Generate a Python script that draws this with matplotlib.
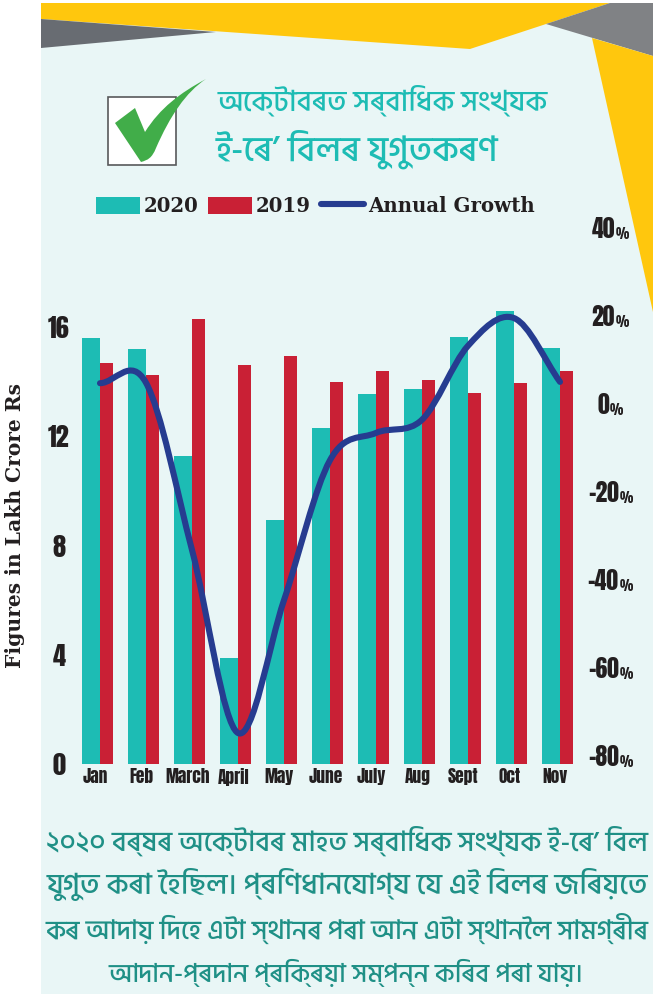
import re
import numpy as np
import matplotlib
matplotlib.use('Agg')
import matplotlib.pyplot as plt
from matplotlib.patches import Polygon, Rectangle, PathPatch
from matplotlib.path import Path
from matplotlib.lines import Line2D

months = ['Jan', 'Feb', 'March', 'April', 'May', 'June', 'July', 'Aug', 'Sept', 'Oct', 'Nov']
bills_2020 = [15.6, 15.2, 11.3, 3.9, 8.95, 12.3, 13.55, 13.75, 15.65, 16.6, 15.25]
bills_2019 = [14.7, 14.25, 16.3, 14.6, 14.95, 14.0, 14.4, 14.05, 13.6, 13.95, 14.4]
growth = [4.5, 4.6, -33.4, -75, -44.8, -13, -6.8, -3.8, 13, 19.3, 4.8]

left_ticks = [0, 4, 8, 12, 16]
right_ticks = [-80, -60, -40, -20, 0, 20, 40]

title_lines = ['অক্টোবৰত সৰ্বাধিক সংখ্যক', 'ই-ৰে’ বিলৰ যুগুতকৰণ']
body_lines = [
    '২০২০ বৰ্ষৰ অক্টোবৰ মাহত সৰ্বাধিক সংখ্যক ই-ৰে’ বিল',
    'যুগুত কৰা হৈছিল। প্ৰণিধানযোগ্য যে এই বিলৰ জৰিয়তে',
    'কৰ আদায় দিহে এটা স্থানৰ পৰা আন এটা স্থানলৈ সামগ্ৰীৰ',
    'আদান-প্ৰদান প্ৰক্ৰিয়া সম্পন্ন কৰিব পৰা যায়।',
]

TEAL = '#1DBCB4'
RED = '#C92035'
BLUE = '#263C90'
YELLOW = '#FFC70D'
PANEL = '#E9F6F6'
W, H = 653, 997
BN = ['Hind Siliguri', 'Noto Sans Bengali', 'DejaVu Sans']
NARROW = ['Anton', 'Liberation Sans Narrow', 'DejaVu Sans']
SERIF = ['DejaVu Serif']

CONS = '[\u0995-\u09B9\u09DC-\u09DF\u09F0\u09F1]\u09BC?'


# matplotlib does no Indic shaping, so vowel signs that sit before the consonant get moved by hand
def visual(s):
    s = s.replace('\u09CB', '\u09C7\u09BE').replace('\u09CC', '\u09C7\u09D7')
    return re.sub('((?:' + CONS + '\u09CD)*' + CONS + ')([\u09BF\u09C7\u09C8])', r'\2\1', s)


def px_axes(x0, y0, x1, y1, **kw):
    return fig.add_axes([x0 / W, 1 - y1 / H, (x1 - x0) / W, (y1 - y0) / H], **kw)


fig = plt.figure(figsize=(W / 100, H / 100), dpi=100, facecolor='white')

# decoration, in pixel coordinates
bg = px_axes(0, 0, W, H)
bg.set_xlim(0, W)
bg.set_ylim(H, 0)
bg.axis('off')
bg.add_patch(Rectangle((41, 3), W - 41, 991, fc=PANEL, ec='none'))
bg.add_patch(Polygon([(41, 3), (610, 3), (470, 49), (41, 19)], fc=YELLOW, ec='none'))
bg.add_patch(Polygon([(41, 19), (216, 32), (41, 48)], fc='#686C72', ec='none'))
bg.add_patch(Polygon([(610, 3), (653, 3), (653, 56), (546, 24)], fc='#808285', ec='none'))
bg.add_patch(Polygon([(592, 38), (653, 56), (653, 312)], fc=YELLOW, ec='none'))
bg.add_patch(Rectangle((108, 97), 68, 68, fc='white', ec='#58595B', lw=1.2))
tick_path = Path(
    [(115, 123), (135, 108), (145, 132), (160, 108), (180, 93), (206, 79),
     (186, 92), (170, 116), (156, 148), (152, 158), (148, 160), (141, 162), (115, 123)],
    [Path.MOVETO, Path.LINETO, Path.LINETO, Path.CURVE4, Path.CURVE4, Path.CURVE4,
     Path.CURVE4, Path.CURVE4, Path.CURVE4, Path.CURVE4, Path.CURVE4, Path.CURVE4, Path.CLOSEPOLY])
bg.add_patch(PathPatch(tick_path, fc='#41AD49', ec='none'))

# 46 px per month, teal/red boundary of Jan at x=100, zero at y=764
ax = px_axes(54, 200, 606, 764)
ax.patch.set_alpha(0)
ax.set_xlim(-1, 11)
ax.set_ylim(0, 564 / 27.3)
x = np.arange(len(months))
bw_a, bw_b = 18 / 46, 13 / 46
ax.bar(x, bills_2020, width=-bw_a, align='edge', color=TEAL, zorder=2)
ax.bar(x, bills_2019, width=bw_b, align='edge', color=RED, zorder=3)
ax.set_xticks(x - 0.1, months)
ax.set_yticks(left_ticks)
ax.tick_params(axis='x', length=0, pad=3)
ax.tick_params(axis='y', length=0, pad=-3.6)
for lb in ax.get_xticklabels():
    lb.set(family=NARROW, fontsize=12.5, color='#231F20')
for lb in ax.get_yticklabels():
    lb.set(family=NARROW, fontsize=19, color='#231F20', ha='center')
for s in ax.spines.values():
    s.set_visible(False)

ax2 = ax.twinx()
ax2.patch.set_alpha(0)
ax2.set_ylim((403 - 764) / 4.4, (403 - 200) / 4.4)
ax2.set_yticks(right_ticks, [str(v) for v in right_ticks])
ax2.tick_params(axis='y', length=0, pad=-2)
for s in ax2.spines.values():
    s.set_visible(False)
for lb in ax2.get_yticklabels():
    lb.set(family=NARROW, fontsize=17, color='#231F20', ha='center')

# smoothed growth line: Catmull-Rom through the monthly values
g = np.array(growth, dtype=float)
pts = np.column_stack([x, g])
m = np.zeros_like(pts)
m[1:-1] = (pts[2:] - pts[:-2]) / 2
m[0] = pts[1] - pts[0]
m[-1] = pts[-1] - pts[-2]
verts = [pts[0]]
codes = [Path.MOVETO]
for i in range(len(pts) - 1):
    verts += [pts[i] + m[i] / 3, pts[i + 1] - m[i + 1] / 3, pts[i + 1]]
    codes += [Path.CURVE4] * 3
ax2.add_patch(PathPatch(Path(verts, codes), fc='none', ec=BLUE, lw=4.4, capstyle='round',
                        joinstyle='round', zorder=5))

fig.text(15 / W, 1 - 525 / H, 'Figures in Lakh Crore Rs', rotation=90, ha='center', va='center',
         family=SERIF, fontweight='bold', fontsize=14.6, color='#231F20')

handles = [Rectangle((0, 0), 1, 1, fc=TEAL, ec='none'), Rectangle((0, 0), 1, 1, fc=RED, ec='none'),
           Line2D([0], [0], color=BLUE, lw=4.4, solid_capstyle='round')]
fig.legend(handles, ['2020', '2019', 'Annual Growth'], ncol=3, frameon=False, loc='center',
           bbox_to_anchor=(315.5 / W, 1 - 206 / H), handlelength=2.2, handleheight=0.92,
           handletextpad=0.2, columnspacing=0.5, borderpad=0, labelspacing=0,
           prop={'family': SERIF, 'weight': 'bold', 'size': 14.2}, labelcolor='#231F20')

# Assamese text, each line fitted to its width in the picture
placed = []
for line, (cx, cy, w) in zip(title_lines, [(383, 101, 330), (357, 149, 282)]):
    placed.append((fig.text(cx / W, 1 - cy / H, visual(line), ha='center', va='center',
                            family=BN, fontweight=500, fontsize=22, color=TEAL), w))
for line, (cx, cy, w) in zip(body_lines, [(347, 841, 600), (347, 884, 602), (347, 928, 602), (346, 973, 474)]):
    placed.append((fig.text(cx / W, 1 - cy / H, visual(line), ha='center', va='center',
                            family=BN, fontweight=500, fontsize=20, color='#1F9086'), w))
fig.canvas.draw()
rend = fig.canvas.get_renderer()
for t, w in placed:
    t.set_fontsize(t.get_fontsize() * w / t.get_window_extent(rend).width)
fig.canvas.draw()

# small % after each right-hand number
for lb in ax2.get_yticklabels():
    ax2.annotate('%', xy=(1, 0), xycoords=lb, xytext=(0.5, 0), textcoords='offset points',
                 ha='left', va='bottom', family=NARROW, fontsize=9, color='#231F20')

fig.savefig('out.png', dpi=100, facecolor='white')
